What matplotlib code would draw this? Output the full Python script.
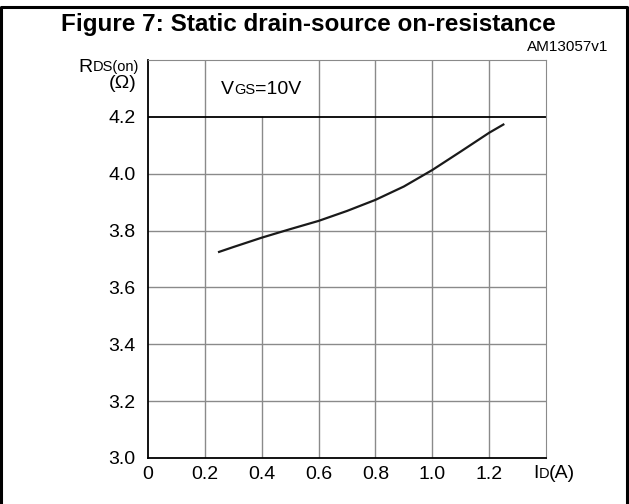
import matplotlib
matplotlib.use("Agg")
import matplotlib.pyplot as plt
from matplotlib.lines import Line2D
from matplotlib.offsetbox import TextArea, HPacker, AnnotationBbox

plt.rcParams['font.family'] = ['Liberation Sans', 'DejaVu Sans']

# curve
id_a = [0.25, 0.3, 0.4, 0.5, 0.6, 0.7, 0.8, 0.9, 1.0, 1.1, 1.2, 1.25]
rds = [3.725, 3.742, 3.775, 3.805, 3.834, 3.869, 3.908, 3.955, 4.013, 4.078, 4.144, 4.173]

x_ticks = [0, 0.2, 0.4, 0.6, 0.8, 1.0, 1.2]
x_labels = ['0', '0.2', '0.4', '0.6', '0.8', '1.0', '1.2']
y_ticks = [3.0, 3.2, 3.4, 3.6, 3.8, 4.0, 4.2]
y_labels = ['3.0', '3.2', '3.4', '3.6', '3.8', '4.0', '4.2']

W, H = 629, 504
fig = plt.figure(figsize=(W / 100, H / 100), dpi=100)
ax = fig.add_axes([148 / W, 1 - 458 / H, (546 - 148) / W, (458 - 60) / H])
ax.set_xlim(0, 1.4)
ax.set_ylim(3.0, 4.4)

grid_c = '#8a8a8a'
# vertical grid lines (0.4 stops at 4.2 because of the label)
for x in [0.2, 0.4, 0.6, 0.8, 1.0, 1.2]:
    top = 4.2 if x == 0.4 else 4.4
    ax.plot([x, x], [3.0, top], color=grid_c, lw=1.0, zorder=1)
for y in [3.2, 3.4, 3.6, 3.8, 4.0]:
    ax.axhline(y, color=grid_c, lw=1.0, zorder=1)
ax.axhline(4.2, color='black', lw=1.3, zorder=1)

ax.plot(id_a, rds, color='#1a1a1a', lw=1.6, zorder=3)

ax.set_xticks(x_ticks)
ax.set_xticklabels(x_labels)
ax.set_yticks(y_ticks)
ax.set_yticklabels(y_labels)
ax.tick_params(length=0, labelsize=14, pad=9)
ax.tick_params(axis='x', pad=6)

ax.spines['left'].set_color('black')
ax.spines['bottom'].set_color('black')
ax.spines['left'].set_linewidth(1.3)
ax.spines['bottom'].set_linewidth(1.3)
ax.spines['top'].set_color(grid_c)
ax.spines['right'].set_color(grid_c)


def mixed(parts, xy, align):
    boxes = [TextArea(t, textprops=dict(size=s, color='black')) for t, s in parts]
    pack = HPacker(children=boxes, align='baseline', pad=0, sep=0)
    ab = AnnotationBbox(pack, xy, xycoords='figure pixels', box_alignment=align,
                        frameon=False, pad=0)
    fig.add_artist(ab)


big, small = 14, 10.5
mixed([('R', big), ('DS(on)', small)], (139, H - 67), (1, 0.5))
mixed([('(Ω)', big)], (136, H - 84), (1, 0.5))
mixed([('V', big), ('GS', small), ('=10V', big)], (221, H - 90), (0, 0.5))
mixed([('I', big), ('D', small), ('(A)', big)], (533, H - 474), (0, 0.5))

fig.text(308, H - 24, 'Figure 7: Static drain-source on-resistance', transform=None,
         ha='center', va='center', fontsize=17.5, fontweight='bold')
fig.text(608, H - 47, 'AM13057v1', transform=None, ha='right', va='center', fontsize=11)

# outer frame (open at bottom)
fig.add_artist(Line2D([1, 1, 627, 627], [0, H - 7, H - 7, 0], transform=None,
                      color='black', lw=2.2))

fig.savefig('out.png', dpi=100)
